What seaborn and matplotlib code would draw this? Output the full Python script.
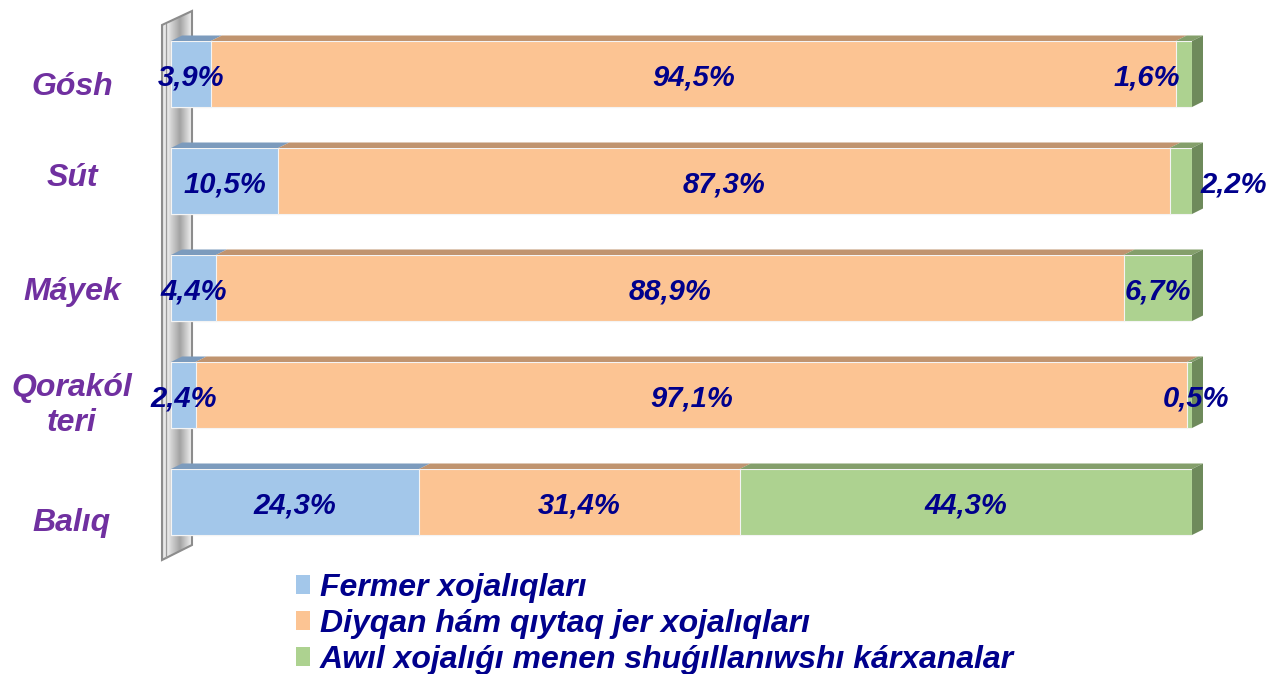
import numpy as np
import pandas as pd
import matplotlib
matplotlib.use("Agg")
import matplotlib.pyplot as plt
import seaborn as sns
from matplotlib.patches import Polygon, Patch
from matplotlib.colors import LinearSegmentedColormap

categories = ["Gósh", "Sút", "Máyek", "Qorakól\nteri", "Balıq"]
fermer = [3.9, 10.5, 4.4, 2.4, 24.3]
diyqan = [94.5, 87.3, 88.9, 97.1, 31.4]
awil = [1.6, 2.2, 6.7, 0.5, 44.3]
series_names = ["Fermer xojalıqları",
                "Diyqan hám qıytaq jer xojalıqları",
                "Awıl xojalıǵı menen shuǵıllanıwshı kárxanalar"]

front = ["#A3C7EA", "#FCC493", "#ADD290"]
top = ["#7C9BBD", "#C0946F", "#849F6B"]
side = "#6E8A5B"
txt_blue = "#00008C"
purple = "#7030A0"

sns.set_theme(style="white")
plt.rcParams["font.family"] = ["Liberation Sans", "DejaVu Sans"]

W, H = 1270, 674
fig = plt.figure(figsize=(W / 100, H / 100), dpi=100)

# background axes in pixel units for the grey "wall"
bg = fig.add_axes([0, 0, 1, 1], zorder=0)
wall = [(162, 25), (192, 11), (192, 545), (162, 560)]
cmap = LinearSegmentedColormap.from_list(
    "wall", [(0, "#d8d8d8"), (0.13, "#f4f4f4"), (0.33, "#cfcfcf"),
             (0.6, "#a3a3a3"), (0.8, "#c9c9c9"), (1, "#f2f2f2")])
grad = np.linspace(0, 1, 64).reshape(1, -1)
im = bg.imshow(grad, cmap=cmap, extent=(162, 192, 560, 11), aspect="auto")
wp = Polygon(wall, closed=True, fc="none", ec="#8c8c8c", lw=1.5)
bg.add_patch(wp)
im.set_clip_path(wp)
bg.plot([166, 166], [24, 558], color="#9a9a9a", lw=1)
bg.set_xlim(0, W)
bg.set_ylim(H, 0)
bg.set_axis_off()

# main axes
left, right = 171 / W, 1192 / W
bottom, topf = 1 - 555.5 / H, 1 - 20.5 / H
ax = fig.add_axes([left, bottom, right - left, topf - bottom], zorder=1)
ax.patch.set_alpha(0)

df = pd.DataFrame({"cat": categories, "f": fermer, "d": diyqan, "a": awil})
df["c1"] = df["f"]
df["c2"] = df["f"] + df["d"]
df["c3"] = df["c2"] + df["a"]

bw = 0.617
for col, color in zip(["c3", "c2", "c1"], front[::-1]):
    sns.barplot(data=df, y="cat", x=col, orient="h", color=color,
                width=bw, saturation=1, edgecolor="#f4f4f4", linewidth=0.8,
                ax=ax)

ax.set_xlim(0, 100)
ax.set_ylim(4.5, -0.5)
ax.set_axis_off()

dx, dy = 11 / 10.21, 5.5 / 107
for i in range(len(categories)):
    yt = i - bw / 2
    yb = i + bw / 2
    starts = [0, fermer[i], fermer[i] + diyqan[i]]
    vals = [fermer[i], diyqan[i], awil[i]]
    for s, v, c in zip(starts, vals, top):
        ax.add_patch(Polygon([(s, yt), (s + v, yt), (s + v + dx, yt - dy), (s + dx, yt - dy)],
                             closed=True, fc=c, ec="none", clip_on=False, zorder=3))
    ax.add_patch(Polygon([(100, yt), (100 + dx, yt - dy), (100 + dx, yb - dy), (100, yb)],
                         closed=True, fc=side, ec="none", clip_on=False, zorder=3))

# value labels
label_shift = {(0, 2): -3.6, (1, 2): 5.2, (3, 2): 0.6}
lab_font = dict(color=txt_blue, fontsize=21, fontweight="bold", fontstyle="italic")
for i in range(len(categories)):
    starts = [0, fermer[i], fermer[i] + diyqan[i]]
    vals = [fermer[i], diyqan[i], awil[i]]
    for j, (s, v) in enumerate(zip(starts, vals)):
        x = s + v / 2 + label_shift.get((i, j), 0)
        ax.text(x, i + 0.03, f"{v:.1f}%".replace(".", ","), ha="center", va="center",
                clip_on=False, zorder=5, **lab_font)

# category labels
cat_shift = [0.12, -0.03, 0.04, 0.1, 0.2]
for i, (c, s) in enumerate(zip(categories, cat_shift)):
    ax.text(-9.7, i + s, c, ha="center", va="center", color=purple, fontsize=23,
            fontweight="bold", fontstyle="italic", linespacing=1.2, clip_on=False)

handles = [Patch(fc=c, ec="none") for c in front]
leg = fig.legend(handles, series_names, loc="upper left",
                 bbox_to_anchor=(296 / W, 1 - 573 / H), frameon=False,
                 borderpad=0, borderaxespad=0, handlelength=0.45, handleheight=0.55,
                 handletextpad=0.3, labelspacing=0.19,
                 prop=dict(size=23, weight="bold", style="italic"))
for t in leg.get_texts():
    t.set_color(txt_blue)

fig.savefig("out.png", dpi=100)
